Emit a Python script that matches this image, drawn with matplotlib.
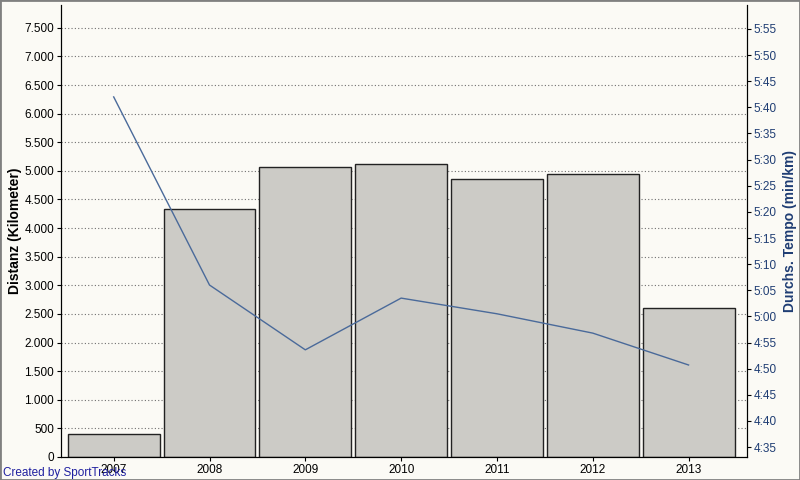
import matplotlib
matplotlib.use('Agg')
from matplotlib import pyplot as plt
from matplotlib.patches import Rectangle

years = ['2007', '2008', '2009', '2010', '2011', '2012', '2013']
distance = [400, 4336, 5070, 5122, 4860, 4948, 2605]
pace_sec = [342, 306, 293.6, 303.5, 300.5, 296.8, 290.7]

left_ticks = list(range(0, 8000, 500))
right_ticks = list(range(275, 360, 5))


def thousands(x, pos):
    return f'{int(x):,}'.replace(',', '.')


def minsec(x, pos):
    x = int(round(x))
    return f'{x // 60}:{x % 60:02d}'


def main():
    plt.rcParams['font.family'] = ['Liberation Sans', 'DejaVu Sans']
    bg = '#fbfaf5'
    blue = '#1f3d73'
    fig = plt.figure(figsize=(8, 4.8), dpi=100, facecolor=bg)
    fig.patches.append(Rectangle((0, 0), 1, 1, transform=fig.transFigure,
                                 fill=False, edgecolor='#808080', lw=2))
    ax = fig.add_axes([0.07625, 0.048, 0.8575, 0.9417])
    ax.set_facecolor(bg)
    xs = list(range(len(years)))
    ax.bar(xs, distance, width=0.96, color='#cccbc6', edgecolor='#222222',
           linewidth=1.0, zorder=2)
    ax.set_xlim(-0.55, 6.61)
    ax.set_ylim(0, 7900)
    ax.set_yticks(left_ticks)
    ax.yaxis.set_major_formatter(thousands)
    ax.set_xticks(xs)
    ax.set_xticklabels(years)
    ax.grid(axis='y', linestyle=(0, (1, 2)), color='#707070', linewidth=0.8, zorder=0)
    ax.tick_params(labelsize=8.5, length=3, pad=2)
    ax.spines['top'].set_visible(False)
    ax.set_ylabel('Distanz (Kilometer)', fontsize=10, fontweight='bold', labelpad=2)

    ax2 = ax.twinx()
    ax2.plot(xs, pace_sec, color='#4a6a9a', linewidth=1.0, zorder=3)
    ax2.set_ylim(273.1, 359.6)
    ax2.set_yticks(right_ticks)
    ax2.yaxis.set_major_formatter(minsec)
    ax2.tick_params(labelsize=8.5, length=3, pad=2, colors=blue)
    ax2.tick_params(axis='y', color='black')
    ax2.spines['top'].set_visible(False)
    ax2.set_ylabel('Durchs. Tempo (min/km)', fontsize=10, fontweight='bold',
                   color=blue, labelpad=4)

    fig.text(0.004, 0.008, 'Created by SportTracks', color='#2020a0', fontsize=8.5)
    fig.savefig('out.png', dpi=100, facecolor=bg)


if __name__ == "__main__":
    main()
